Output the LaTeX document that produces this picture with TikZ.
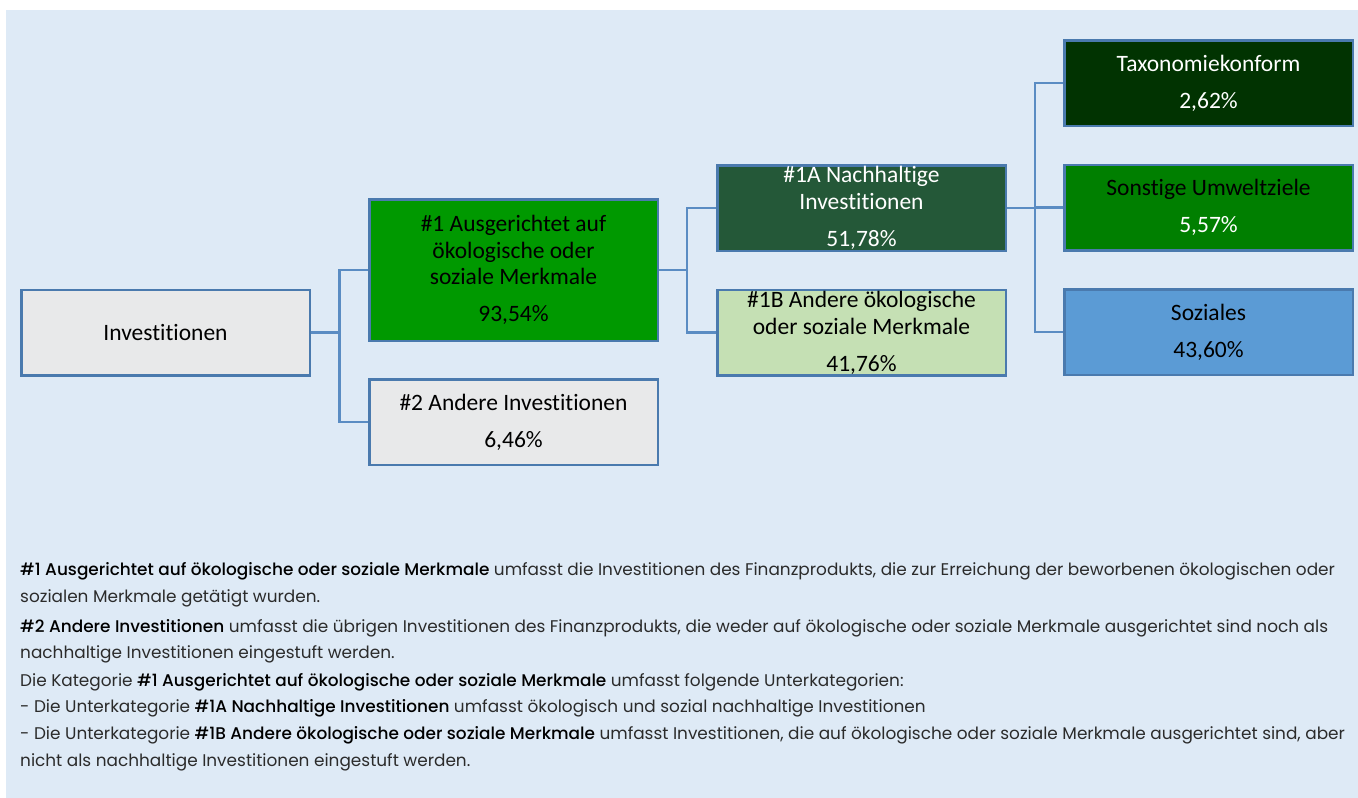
\documentclass[tikz,border=0pt]{standalone}
\usepackage{fontspec}
\setmainfont{Poppins}[BoldFont={Poppins Medium}]
\newfontfamily\boxfont[Ligatures=NoCommon]{Carlito}
\definecolor{bgc}{HTML}{DEEAF6}
\definecolor{bord}{HTML}{4A7AAE}
\definecolor{connc}{HTML}{5A8CC3}
\definecolor{greyf}{HTML}{E8E9EA}
\definecolor{gOne}{HTML}{009900}
\definecolor{gOneA}{HTML}{245838}
\definecolor{gOneB}{HTML}{C5E0B4}
\definecolor{gTax}{HTML}{013301}
\definecolor{gSon}{HTML}{007F00}
\definecolor{bSoz}{HTML}{5B9BD5}
\definecolor{txt}{HTML}{2B2B2B}
\begin{document}
\begin{tikzpicture}[x=1pt,y=-1pt,
  box/.style={draw=bord,line width=2.5pt,minimum width=288.5pt,minimum height=85.5pt,
    align=center,inner sep=0pt,font=\boxfont\fontsize{23.5}{26.7}\selectfont,text=black},
  conn/.style={draw=connc,line width=2.5pt},
  desc/.style={anchor=base west,inner sep=0pt,font=\fontsize{16.9}{26}\selectfont,text=txt}]
\useasboundingbox (0,0) rectangle (1358,798);
\fill[bgc] (6,10) rectangle (1358,798);

\node[box,fill=greyf] (inv) at (165.5,332.5) {Investitionen};
\node[box,fill=gOne,minimum height=141.5pt] (g1) at (513.5,270) {\#1 Ausgerichtet auf\\ökologische oder\\soziale Merkmale\\[10.3pt]93,54\%};
\node[box,fill=greyf] (g2) at (513.5,422) {\#2 Andere Investitionen\\[10.3pt]6,46\%};
\node[box,fill=gOneA,text=white] (a1) at (861.5,208) {\#1A Nachhaltige\\Investitionen\\[10.3pt]51,78\%};
\node[box,fill=gOneB] (b1) at (861.5,332.5) {\#1B Andere ökologische\\oder soziale Merkmale\\[10.3pt]41,76\%};
\node[box,fill=gTax,text=white] (tax) at (1208.5,83) {Taxonomiekonform\\[10.3pt]2,62\%};
\node[box,fill=gSon] (son) at (1208.5,207.5) {Sonstige Umweltziele\\[10.3pt]{\color{white}5,57\%}};
\node[box,fill=bSoz] (soz) at (1208.5,332) {Soziales\\[10.3pt]43,60\%};

\coordinate (j1) at (339.5,332.5);
\coordinate (j2) at (687,270);
\coordinate (j3) at (1035,208);
\draw[conn] (inv.east) -- (j1);
\draw[conn] (g1.west) -| (j1);
\draw[conn] (g2.west) -| (j1);
\draw[conn] (g1.east) -- (j2);
\draw[conn] (a1.west) -| (j2);
\draw[conn] (b1.west) -| (j2);
\draw[conn] (a1.east) -- (j3);
\draw[conn] (tax.west) -| (j3);
\draw[conn] (son.west) -| (j3);
\draw[conn] (soz.west) -| (j3);

\node[desc] (t1) at (20,575) {\textcolor{black}{\textbf{\#1 Ausgerichtet auf ökologische oder soziale Merkmale}} umfasst die Investitionen des Finanzprodukts, die zur Erreichung der beworbenen ökologischen oder};
\node[desc] (t2) at (20,602) {sozialen Merkmale getätigt wurden.};
\node[desc] (t3) at (20,632) {\textcolor{black}{\textbf{\#2 Andere Investitionen}} umfasst die übrigen Investitionen des Finanzprodukts, die weder auf ökologische oder soziale Merkmale ausgerichtet sind noch als};
\node[desc] (t4) at (20,658) {nachhaltige Investitionen eingestuft werden.};
\node[desc] (t5) at (20,686) {Die Kategorie \textcolor{black}{\textbf{\#1 Ausgerichtet auf ökologische oder soziale Merkmale}} umfasst folgende Unterkategorien:};
\node[desc] (t6) at (20,712) {- Die Unterkategorie \textcolor{black}{\textbf{\#1A Nachhaltige Investitionen}} umfasst ökologisch und sozial nachhaltige Investitionen};
\node[desc] (t7) at (20,739) {- Die Unterkategorie \textcolor{black}{\textbf{\#1B Andere ökologische oder soziale Merkmale}} umfasst Investitionen, die auf ökologische oder soziale Merkmale ausgerichtet sind, aber};
\node[desc] (t8) at (20,766) {nicht als nachhaltige Investitionen eingestuft werden.};
\end{tikzpicture}
\end{document}
